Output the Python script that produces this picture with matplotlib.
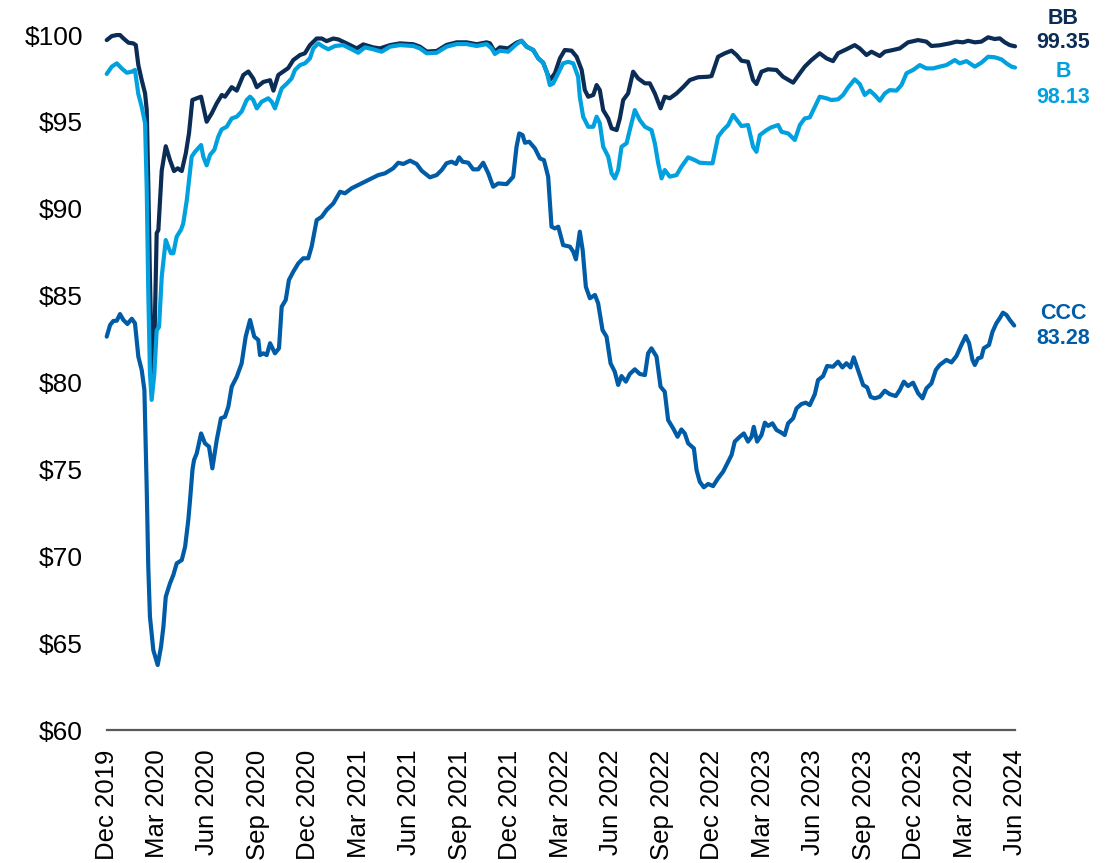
import matplotlib
matplotlib.use("Agg")
import matplotlib.pyplot as plt

plt.rcParams['font.family'] = ['Liberation Sans', 'DejaVu Sans']

# time in months since Dec 2019
bb_t = [0.01, 0.31, 0.61, 0.80, 1.00, 1.30, 1.59, 1.74, 1.89, 2.09, 2.29, 2.39,
        2.48, 2.58, 2.67, 2.76, 2.85, 2.98, 3.08, 3.28, 3.52, 3.77, 4.01, 4.23,
        4.47, 4.71, 4.90, 5.10, 5.36, 5.62, 5.95, 6.25, 6.55, 6.85, 7.04, 7.44,
        7.74, 8.13, 8.43, 8.72, 8.93, 9.32, 9.72, 9.92, 10.21, 10.51, 10.80,
        11.10, 11.50, 11.79, 12.09, 12.49, 12.79, 13.08, 13.48, 13.77, 14.27,
        14.87, 15.26, 15.85, 16.25, 16.85, 17.44, 18.23, 18.63, 19.03, 19.62,
        20.21, 20.81, 21.40, 22.00, 22.59, 22.79, 23.08, 23.38, 23.87, 24.37,
        24.67, 24.97, 25.36, 25.66, 25.95, 26.16, 26.35, 26.65, 26.95, 27.24,
        27.64, 27.94, 28.24, 28.43, 28.63, 28.93, 29.13, 29.32, 29.52, 29.82,
        30.02, 30.32, 30.51, 30.71, 31.00, 31.30, 31.60, 32.00, 32.29, 32.59,
        32.93, 33.18, 33.48, 33.88, 34.27, 34.67, 35.16, 35.76, 35.96, 36.35,
        36.75, 37.15, 37.45, 37.74, 38.13, 38.43, 38.63, 38.93, 39.32, 39.82,
        40.21, 40.81, 41.21, 41.50, 41.90, 42.39, 42.79, 43.18, 43.48, 43.98,
        44.47, 44.77, 45.17, 45.47, 45.96, 46.26, 46.75, 47.15, 47.64, 48.24,
        48.73, 49.03, 49.52, 50.12, 50.52, 50.91, 51.21, 51.61, 52.00, 52.40,
        52.79, 53.09, 53.39, 53.69, 54.0]
bb_v = [99.71, 99.94, 100.0, 100.0, 99.81, 99.56, 99.52, 99.42, 98.27, 97.41,
        96.64, 95.68, 91.5, 86.0, 82.0, 80.6, 82.5, 88.6, 88.78, 92.2, 93.6,
        92.8, 92.17, 92.33, 92.17, 93.19, 94.34, 96.26, 96.36, 96.45, 95.01,
        95.49, 96.07, 96.55, 96.45, 97.0, 96.8, 97.7, 97.9, 97.5, 97.0, 97.3,
        97.4, 96.8, 97.7, 97.9, 98.1, 98.56, 98.85, 98.95, 99.42, 99.8, 99.8,
        99.65, 99.8, 99.75, 99.52, 99.23, 99.46, 99.29, 99.23, 99.42, 99.52,
        99.47, 99.33, 99.05, 99.08, 99.43, 99.58, 99.58, 99.47, 99.58, 99.52,
        99.04, 99.29, 99.23, 99.56, 99.67, 99.33, 99.14, 98.66, 98.41, 97.89,
        97.41, 97.8, 98.66, 99.14, 99.1, 98.75, 97.99, 96.83, 96.45, 96.55,
        97.12, 96.83, 95.68, 95.2, 94.63, 94.53, 95.2, 96.26, 96.64, 97.89,
        97.5, 97.22, 97.22, 96.64, 95.78, 96.45, 96.36, 96.64, 97.0, 97.41,
        97.57, 97.6, 97.64, 98.75, 98.95, 99.1, 98.85, 98.52, 98.46, 97.41,
        97.18, 97.89, 98.03, 97.99, 97.6, 97.26, 97.8, 98.18, 98.56, 98.95,
        98.66, 98.5, 98.95, 99.18, 99.42, 99.23, 98.85, 99.04, 98.79, 99.04,
        99.14, 99.23, 99.58, 99.71, 99.62, 99.37, 99.41, 99.52, 99.62, 99.58,
        99.67, 99.58, 99.62, 99.87, 99.77, 99.81, 99.58, 99.42, 99.35]

b_t = [0.01, 0.31, 0.61, 0.90, 1.20, 1.50, 1.69, 1.89, 2.09, 2.29, 2.39, 2.48,
       2.58, 2.68, 2.84, 2.98, 3.12, 3.28, 3.52, 3.67, 3.83, 3.97, 4.17, 4.43,
       4.56, 4.77, 5.06, 5.26, 5.62, 5.75, 5.95, 6.15, 6.41, 6.64, 6.84, 7.14,
       7.44, 7.74, 8.03, 8.33, 8.53, 8.72, 8.93, 9.22, 9.61, 9.82, 10.01, 10.41,
       10.71, 11.00, 11.20, 11.50, 11.79, 12.09, 12.29, 12.58, 12.88, 13.18,
       13.58, 14.07, 14.57, 14.96, 15.36, 15.85, 16.35, 16.85, 17.44, 18.23,
       18.63, 19.03, 19.62, 20.21, 20.81, 21.40, 22.00, 22.59, 22.89, 23.08,
       23.38, 23.87, 24.37, 24.67, 24.97, 25.36, 25.66, 25.95, 26.16, 26.35,
       26.55, 26.85, 27.14, 27.44, 27.74, 28.03, 28.13, 28.33, 28.63, 28.93,
       29.13, 29.32, 29.52, 29.82, 30.02, 30.21, 30.41, 30.61, 30.91, 31.10,
       31.40, 31.70, 32.00, 32.39, 32.59, 32.79, 32.99, 33.18, 33.48, 33.88,
       34.17, 34.57, 34.97, 35.26, 35.76, 36.02, 36.35, 36.65, 36.95, 37.24,
       37.54, 37.74, 38.13, 38.43, 38.63, 38.83, 39.23, 39.52, 39.92, 40.12,
       40.51, 40.91, 41.21, 41.50, 41.80, 42.10, 42.39, 42.79, 43.09, 43.48,
       43.78, 44.08, 44.47, 44.77, 45.07, 45.37, 45.66, 45.96, 46.26, 46.55,
       46.95, 47.25, 47.55, 47.94, 48.34, 48.73, 49.13, 49.52, 49.92, 50.42,
       50.71, 51.11, 51.61, 52.00, 52.40, 52.79, 53.19, 53.49, 53.79, 54.0]
b_v = [97.76, 98.18, 98.37, 98.08, 97.83, 97.89, 97.99, 96.6, 95.87, 94.92,
       91.08, 85.3, 80.55, 79.0, 80.5, 83.0, 83.2, 86.1, 88.2, 87.8, 87.44,
       87.44, 88.4, 88.8, 89.16, 90.5, 93.0, 93.28, 93.67, 93.0, 92.5, 93.1,
       93.4, 94.15, 94.57, 94.72, 95.2, 95.3, 95.6, 96.26, 96.45, 96.26, 95.78,
       96.16, 96.36, 96.16, 95.78, 96.93, 97.2, 97.5, 97.99, 98.27, 98.37,
       98.66, 99.23, 99.52, 99.33, 99.18, 99.37, 99.42, 99.18, 98.98, 99.29,
       99.18, 99.04, 99.33, 99.42, 99.37, 99.23, 98.95, 98.98, 99.33, 99.48,
       99.48, 99.37, 99.48, 99.23, 98.91, 99.1, 99.04, 99.48, 99.67, 99.33,
       99.14, 98.66, 98.41, 97.89, 97.12, 97.22, 97.8, 98.37, 98.46, 98.37,
       97.6, 96.45, 95.3, 94.72, 94.72, 95.3, 94.92, 93.57, 93.0, 92.04, 91.75,
       92.23, 93.57, 93.77, 94.53, 95.68, 95.1, 94.72, 94.53, 93.77, 92.62,
       91.75, 92.23, 91.85, 91.94, 92.42, 92.96, 92.8, 92.65, 92.62, 92.62,
       94.15, 94.53, 94.82, 95.4, 95.01, 94.76, 94.82, 93.57, 93.28, 94.24,
       94.53, 94.69, 94.82, 94.43, 94.34, 93.96, 94.82, 95.2, 95.26, 95.87,
       96.45, 96.36, 96.26, 96.3, 96.55, 96.99, 97.45, 97.18, 96.55, 96.8,
       96.55, 96.22, 96.64, 96.83, 96.8, 97.12, 97.8, 97.99, 98.27, 98.08,
       98.08, 98.18, 98.27, 98.56, 98.37, 98.5, 98.18, 98.41, 98.75, 98.72,
       98.6, 98.37, 98.18, 98.13]

ccc_t = [0.01, 0.21, 0.40, 0.61, 0.80, 1.00, 1.24, 1.50, 1.69, 1.89, 2.09, 2.25,
         2.39, 2.48, 2.58, 2.78, 3.04, 3.24, 3.38, 3.52, 3.77, 3.97, 4.17, 4.47,
         4.67, 4.86, 4.96, 5.11, 5.20, 5.36, 5.62, 5.85, 6.09, 6.29, 6.55, 6.80,
         7.04, 7.24, 7.44, 7.74, 8.03, 8.27, 8.53, 8.78, 9.02, 9.12, 9.32, 9.52,
         9.72, 10.01, 10.25, 10.41, 10.65, 10.84, 11.10, 11.40, 11.69, 11.99,
         12.19, 12.49, 12.79, 13.08, 13.48, 13.88, 14.17, 14.57, 14.96, 15.36,
         15.76, 16.15, 16.55, 17.04, 17.34, 17.64, 18.04, 18.43, 18.73, 19.22,
         19.62, 19.92, 20.21, 20.51, 20.77, 20.96, 21.16, 21.50, 21.79, 22.09,
         22.39, 22.69, 22.98, 23.28, 23.78, 24.17, 24.37, 24.53, 24.73, 24.87,
         25.12, 25.46, 25.76, 26.00, 26.25, 26.45, 26.65, 26.85, 27.14, 27.54,
         27.74, 27.90, 28.13, 28.30, 28.49, 28.73, 29.03, 29.22, 29.48, 29.72,
         29.96, 30.21, 30.41, 30.61, 30.87, 31.10, 31.40, 31.70, 32.00, 32.19,
         32.39, 32.69, 32.93, 33.18, 33.38, 33.68, 33.94, 34.17, 34.37, 34.57,
         34.91, 35.07, 35.26, 35.50, 35.76, 36.05, 36.35, 36.65, 36.95, 37.15,
         37.34, 37.64, 37.88, 38.13, 38.34, 38.47, 38.67, 38.93, 39.13, 39.32,
         39.58, 39.82, 40.12, 40.31, 40.51, 40.81, 41.01, 41.30, 41.56, 41.80,
         42.10, 42.29, 42.59, 42.83, 43.18, 43.48, 43.74, 43.98, 44.22, 44.41,
         44.73, 44.97, 45.21, 45.41, 45.66, 45.96, 46.26, 46.55, 46.91, 47.15,
         47.39, 47.64, 47.94, 48.24, 48.50, 48.73, 49.03, 49.29, 49.52, 49.92,
         50.22, 50.52, 50.81, 51.07, 51.27, 51.47, 51.61, 51.80, 52.00, 52.14,
         52.45, 52.66, 52.89, 53.09, 53.28, 53.49, 53.69, 53.95]
ccc_v = [82.64, 83.31, 83.54, 83.56, 83.94, 83.6, 83.37, 83.67, 83.41, 81.49,
         80.72, 79.57, 73.8, 69.4, 66.52, 64.6, 63.74, 64.8, 65.95, 67.67,
         68.44, 68.92, 69.59, 69.78, 70.55, 72.09, 73.2, 75.0, 75.54, 75.92,
         77.07, 76.5, 76.31, 75.06, 76.69, 77.94, 78.03, 78.61, 79.76, 80.33,
         81.1, 82.64, 83.6, 82.64, 82.45, 81.58, 81.68, 81.58, 82.26, 81.68,
         81.97, 84.36, 84.75, 85.9, 86.38, 86.86, 87.15, 87.15, 87.82, 89.35,
         89.54, 89.93, 90.31, 90.98, 90.89, 91.18, 91.37, 91.56, 91.75, 91.94,
         92.04, 92.33, 92.65, 92.58, 92.77, 92.58, 92.19, 91.81, 91.94, 92.23,
         92.62, 92.71, 92.58, 92.96, 92.71, 92.65, 92.27, 92.27, 92.65, 92.04,
         91.27, 91.46, 91.42, 91.84, 93.57, 94.34, 94.24, 93.8, 93.86, 93.48,
         92.9, 92.8, 91.84, 88.97, 88.87, 88.97, 87.91, 87.82, 87.53, 87.09,
         88.68, 87.63, 85.51, 84.85, 85.04, 84.56, 83.02, 82.64, 81.1, 80.62,
         79.86, 80.37, 80.05, 80.49, 80.76, 80.49, 80.43, 81.68, 81.97, 81.49,
         79.76, 79.47, 77.84, 77.36, 76.88, 77.3, 77.07, 76.5, 76.21, 74.96,
         74.29, 73.97, 74.16, 74.04, 74.49, 74.87, 75.44, 75.83, 76.6, 76.88,
         77.07, 76.6, 76.88, 77.45, 76.6, 76.98, 77.69, 77.5, 77.65, 77.27,
         77.11, 76.98, 77.65, 77.94, 78.51, 78.76, 78.84, 78.7, 79.33, 80.14,
         80.37, 80.95, 80.91, 81.2, 80.87, 81.11, 80.87, 81.45, 80.53, 79.86,
         79.72, 79.18, 79.09, 79.18, 79.53, 79.33, 79.22, 79.57, 80.05, 79.8,
         79.99, 79.38, 79.09, 79.66, 79.95, 80.72, 81.01, 81.3, 81.16, 81.53,
         82.16, 82.68, 82.26, 81.3, 81.01, 81.39, 81.45, 81.97, 82.16, 82.92,
         83.41, 83.7, 84.02, 83.89, 83.6, 83.28]

tick_pos = list(range(0, 55, 3))
tick_labels = ["Dec 2019", "Mar 2020", "Jun 2020", "Sep 2020", "Dec 2020",
               "Mar 2021", "Jun 2021", "Sep 2021", "Dec 2021", "Mar 2022",
               "Jun 2022", "Sep 2022", "Dec 2022", "Mar 2023", "Jun 2023",
               "Sep 2023", "Dec 2023", "Mar 2024", "Jun 2024"]
y_ticks = [60, 65, 70, 75, 80, 85, 90, 95, 100]
y_labels = ["$60", "$65", "$70", "$75", "$80", "$85", "$90", "$95", "$100"]

c_bb = "#0b2c55"
c_b = "#00a1de"
c_ccc = "#005ca6"

fig = plt.figure(figsize=(11.18, 8.63), dpi=100)
ax = fig.add_axes([0.0953, 0.1541, 0.8126, 0.8053])

lw = 3.0
ax.plot(ccc_t, ccc_v, color=c_ccc, lw=lw, solid_joinstyle='round', solid_capstyle='round', clip_on=False)
ax.plot(bb_t, bb_v, color=c_bb, lw=lw, solid_joinstyle='round', solid_capstyle='round', clip_on=False)
ax.plot(b_t, b_v, color=c_b, lw=lw, solid_joinstyle='round', solid_capstyle='round', clip_on=False)

ax.set_xlim(0, 54)
ax.set_ylim(60, 100)
ax.set_xticks(tick_pos)
ax.set_xticklabels(tick_labels, rotation=90, fontsize=18.5)
ax.set_yticks(y_ticks)
ax.set_yticklabels(y_labels, fontsize=19)
ax.tick_params(axis='both', length=0)
ax.tick_params(axis='x', pad=14)
ax.tick_params(axis='y', pad=17)
for s in ['top', 'right', 'left']:
    ax.spines[s].set_visible(False)
ax.spines['bottom'].set_color('#595959')
ax.spines['bottom'].set_linewidth(1.6)

lab_x = 0.9508
fs = 15.5
fig.text(lab_x, 0.9791, "BB", color=c_bb, fontsize=fs, fontweight='bold', ha='center', va='center')
fig.text(lab_x, 0.9502, f"{bb_v[-1]:.2f}", color=c_bb, fontsize=fs, fontweight='bold', ha='center', va='center')
fig.text(lab_x, 0.9166, "B", color=c_b, fontsize=fs, fontweight='bold', ha='center', va='center')
fig.text(lab_x, 0.8876, f"{b_v[-1]:.2f}", color=c_b, fontsize=fs, fontweight='bold', ha='center', va='center')
fig.text(lab_x, 0.6373, "CCC", color=c_ccc, fontsize=fs, fontweight='bold', ha='center', va='center')
fig.text(lab_x, 0.6083, f"{ccc_v[-1]:.2f}", color=c_ccc, fontsize=fs, fontweight='bold', ha='center', va='center')

fig.savefig("out.png", dpi=100)
